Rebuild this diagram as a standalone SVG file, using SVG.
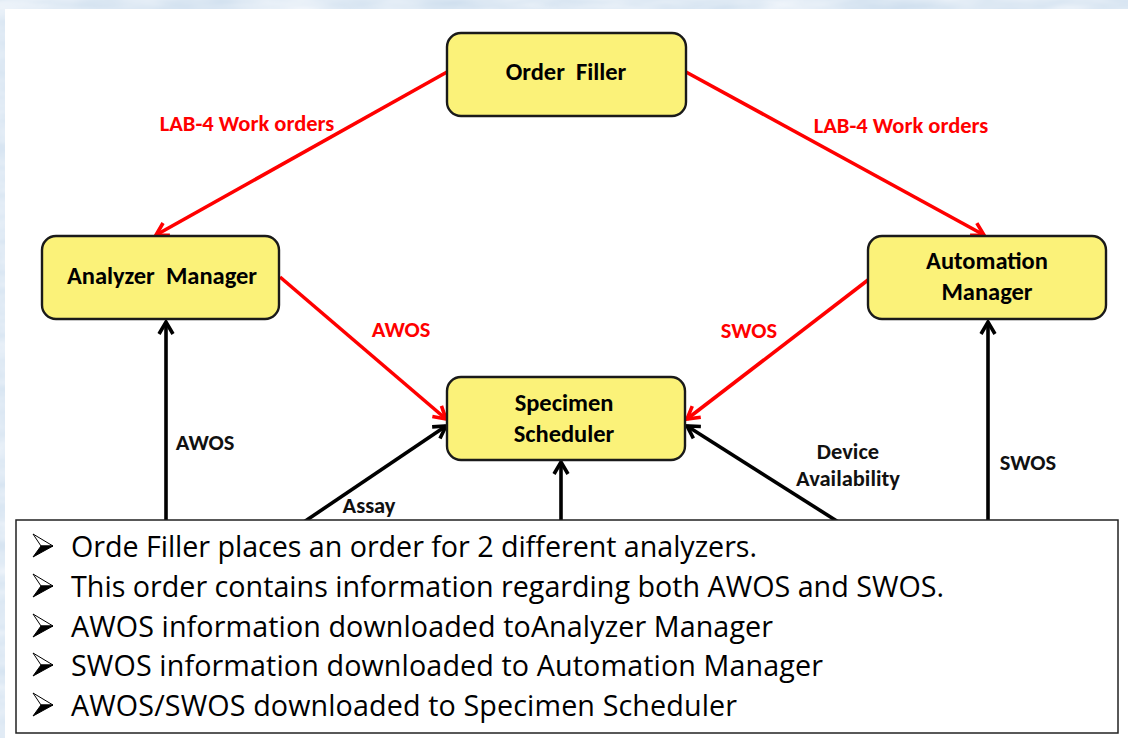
<svg xmlns="http://www.w3.org/2000/svg" width="1128" height="738" viewBox="0 0 1128 738">
<defs>
<filter id="cloud" x="0" y="0" width="100%" height="100%"><feTurbulence type="fractalNoise" baseFrequency="0.012 0.05" numOctaves="3" seed="4"/><feColorMatrix values="0 0 0 0 0.97  0 0 0 0 0.98  0 0 0 0 1  0.9 0 0 0 0"/></filter>
<marker id="ar" markerUnits="userSpaceOnUse" markerWidth="20" markerHeight="20" refX="14" refY="8" orient="auto" overflow="visible"><path d="M2 1L14 8L2 15" fill="none" stroke="#f00" stroke-width="3.6"/></marker>
<marker id="ak" markerUnits="userSpaceOnUse" markerWidth="20" markerHeight="20" refX="14" refY="8" orient="auto" overflow="visible"><path d="M2 1L14 8L2 15" fill="none" stroke="#000" stroke-width="3.6"/></marker>
<g id="bl"><path d="M0 0L20 12L8 12Z" fill="#fff" stroke="#000" stroke-width="1"/><path d="M0 23L20 12L8 12Z" fill="#000" stroke="#000" stroke-width="1"/></g>
</defs>
<style>
.n{fill:#fbf279;stroke:#1a1a1a;stroke-width:2.4}
.t{font-family:"Carlito","Liberation Sans",Arial,sans-serif;font-weight:700;text-anchor:middle}
.nt{font-size:24.5px;fill:#000}
.rl{font-size:22.5px;fill:#f00}
.bl{font-size:22.5px;fill:#111}
.r{stroke:#f00;stroke-width:3.6;fill:none;marker-end:url(#ar)}
.k{stroke:#000;stroke-width:3.6;fill:none;marker-end:url(#ak)}
.b{font-family:"Open Sans","Liberation Sans",sans-serif;font-size:28.7px;fill:#000}
</style>
<rect width="1128" height="738" fill="#c9dbec"/>
<rect width="1128" height="738" filter="url(#cloud)"/>
<rect x="5" y="9" width="1123" height="729" fill="#fff"/>
<g id="connectors">
<line class="r" x1="447" y1="72" x2="156" y2="235"/>
<line class="r" x1="686" y1="72" x2="984" y2="235"/>
<line class="r" x1="280" y1="277" x2="446" y2="419"/>
<line class="r" x1="868" y1="280" x2="687" y2="419"/>
<line class="k" x1="166" y1="530" x2="166" y2="322"/>
<line class="k" x1="988" y1="530" x2="988" y2="322"/>
<line class="k" x1="561" y1="530" x2="561" y2="462"/>
<line class="k" x1="292" y1="530" x2="446" y2="426"/>
<line class="k" x1="851" y1="530" x2="687" y2="426"/>
</g>
<g id="order-filler"><rect class="n" x="447" y="33" width="239" height="83" rx="14"/><text class="t nt" x="566" y="80" xml:space="preserve">Order  Filler</text></g>
<g id="analyzer-manager"><rect class="n" x="42" y="236" width="237" height="83" rx="14"/><text class="t nt" x="162" y="284" xml:space="preserve">Analyzer  Manager</text></g>
<g id="automation-manager"><rect class="n" x="868" y="236" width="238" height="83" rx="14"/><text class="t nt" x="987" y="269">Automation</text><text class="t nt" x="987" y="300">Manager</text></g>
<g id="specimen-scheduler"><rect class="n" x="447" y="377" width="238" height="83" rx="14"/><text class="t nt" x="564" y="411">Specimen</text><text class="t nt" x="564" y="442">Scheduler</text></g>
<g id="labels">
<text class="t rl" x="247" y="131">LAB-4 Work orders</text>
<text class="t rl" x="901" y="133">LAB-4 Work orders</text>
<text class="t rl" x="401" y="337">AWOS</text>
<text class="t rl" x="749" y="338">SWOS</text>
<text class="t bl" x="205" y="450">AWOS</text>
<text class="t bl" x="1028" y="470">SWOS</text>
<text class="t bl" x="369" y="513">Assay</text>
<text class="t bl" x="848" y="459">Device</text>
<text class="t bl" x="848" y="486">Availability</text>
</g>
<g id="notes">
<rect x="16" y="520" width="1102" height="213" fill="#fff" stroke="#222" stroke-width="1.5"/>
<use href="#bl" x="33" y="534"/>
<use href="#bl" x="33" y="574"/>
<use href="#bl" x="33" y="614"/>
<use href="#bl" x="33" y="653"/>
<use href="#bl" x="33" y="693"/>
<text class="b" x="71" y="557" textLength="686">Orde Filler places an order for 2 different analyzers.</text>
<text class="b" x="71" y="597" textLength="873">This order contains information regarding both AWOS and SWOS.</text>
<text class="b" x="71" y="637" textLength="702">AWOS information downloaded toAnalyzer Manager</text>
<text class="b" x="71" y="676" textLength="752">SWOS information downloaded to Automation Manager</text>
<text class="b" x="71" y="716" textLength="666">AWOS/SWOS downloaded to Specimen Scheduler</text>
</g>
</svg>
